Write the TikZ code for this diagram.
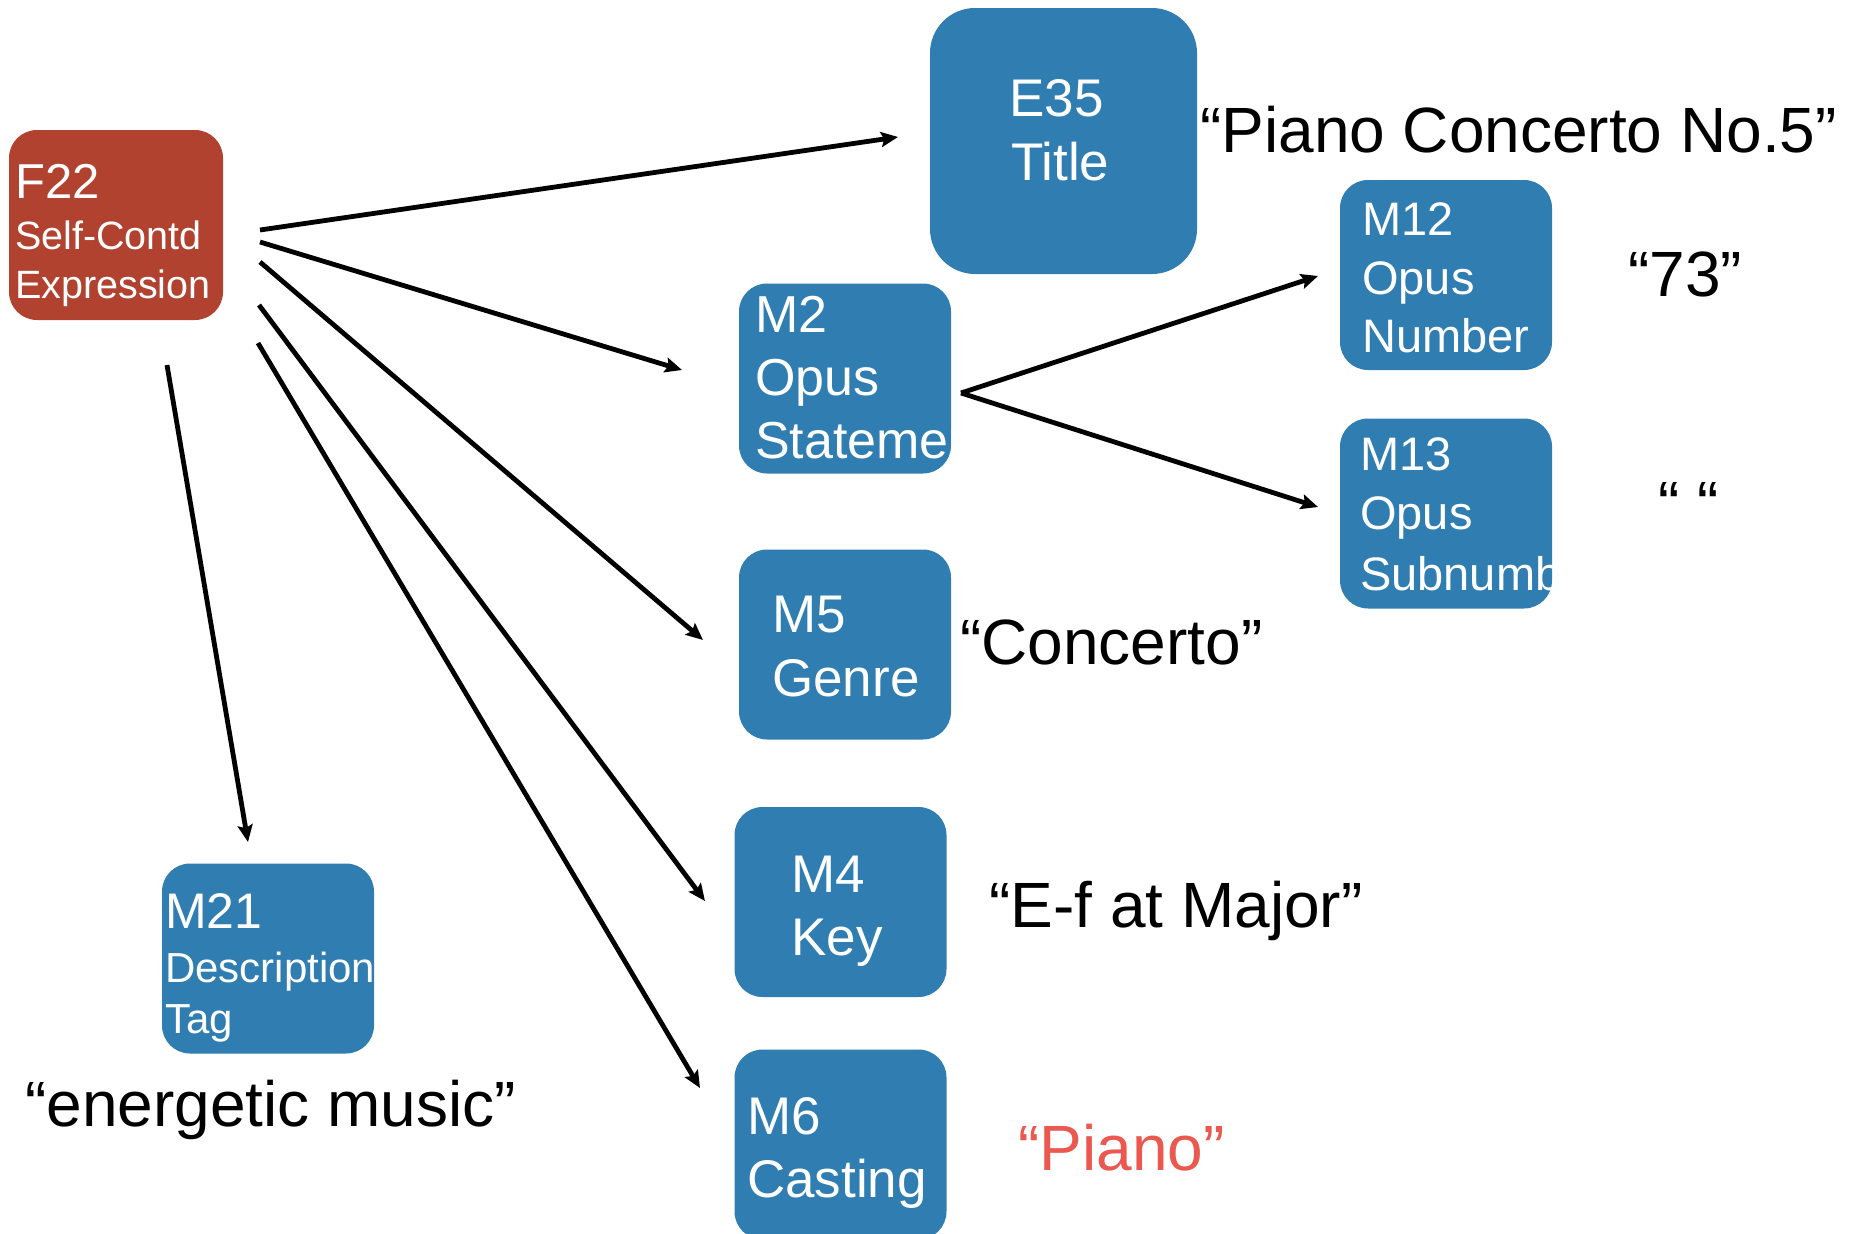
\documentclass[tikz,border=0pt]{standalone}
\usepackage{fontspec}
\setmainfont{Liberation Sans}
\usetikzlibrary{arrows.meta}
\definecolor{boxblue}{RGB}{47,125,177}
\definecolor{boxred}{RGB}{178,66,48}
\definecolor{quotered}{RGB}{234,88,80}
\newcommand\fs[1]{\fontsize{#1pt}{#1pt}\selectfont}
\begin{document}
\begin{tikzpicture}[x=1pt,y=-1pt,
  card/.style={rounded corners=28pt, fill=boxblue, draw=none, inner sep=0pt,
               minimum width=212pt, minimum height=190pt},
  redcard/.style={card, fill=boxred},
  bigcard/.style={card, rounded corners=45pt, minimum width=267pt, minimum height=266pt},
  inl/.style={anchor=base west, inner sep=0pt, text=white},
  val/.style={anchor=base west, inner sep=0pt, text=black, font=\fs{64}},
  conn/.style={line width=4.8pt, -{Stealth[length=17pt,width=15pt,inset=3pt]}}]
\useasboundingbox (0,0) rectangle (1858,1234);

% entity cards
\node[redcard, minimum width=214pt] (f22) at (116,225) {};
\node[bigcard] (e35) at (1063.5,141) {};
\node[card] (m12) at (1446,275) {};
\node[card] (m2)  at (845,378.5) {};
\node[card] (m13) at (1446,513.5) {};
\node[card] (m5)  at (845,644.5) {};
\node[card] (m4)  at (840.5,902) {};
\node[card] (m6)  at (840.5,1144.5) {};
\node[card] (m21) at (268,958.5) {};

% card captions, cut off at the card outline
\begin{scope}
  \clip[rounded corners=28pt] (f22.south west) rectangle (f22.north east);
  \node[inl, font=\fs{49}] (f22a) at (15,198) {F22};
  \node[inl, font=\fs{39.5}] (f22b) at (15,249) {Self-Contd};
  \node[inl, font=\fs{39.5}] (f22c) at (15,298) {Expression};
\end{scope}
\begin{scope}
  \clip[rounded corners=45pt] (e35.south west) rectangle (e35.north east);
  \node[inl, font=\fs{53}] (e35a) at (1009,116) {E35};
  \node[inl, font=\fs{53}] (e35b) at (1011,180) {Title};
\end{scope}
\begin{scope}
  \clip[rounded corners=28pt] (m12.south west) rectangle (m12.north east);
  \node[inl, font=\fs{47}] (m12a) at (1362,235) {M12};
  \node[inl, font=\fs{47}] (m12b) at (1362,294) {Opus};
  \node[inl, font=\fs{47}] (m12c) at (1362,352) {Number};
\end{scope}
\begin{scope}
  \clip[rounded corners=28pt] (m2.south west) rectangle (m2.north east);
  \node[inl, font=\fs{52}] (m2a) at (755,332) {M2};
  \node[inl, font=\fs{52}] (m2b) at (755,395) {Opus};
  \node[inl, font=\fs{52}] (m2c) at (755,458) {Statement};
\end{scope}
\begin{scope}
  \clip[rounded corners=28pt] (m13.south west) rectangle (m13.north east);
  \node[inl, font=\fs{47}] (m13a) at (1360,470) {M13};
  \node[inl, font=\fs{47}] (m13b) at (1360,529) {Opus};
  \node[inl, font=\fs{47}] (m13c) at (1360,590) {Subnumber};
\end{scope}
\begin{scope}
  \clip[rounded corners=28pt] (m5.south west) rectangle (m5.north east);
  \node[inl, font=\fs{53}] (m5a) at (772,632) {M5};
  \node[inl, font=\fs{53}] (m5b) at (772,696) {Genre};
\end{scope}
\begin{scope}
  \clip[rounded corners=28pt] (m4.south west) rectangle (m4.north east);
  \node[inl, font=\fs{53}] (m4a) at (791,892) {M4};
  \node[inl, font=\fs{53}] (m4b) at (791,955) {Key};
\end{scope}
\begin{scope}
  \clip[rounded corners=28pt] (m6.south west) rectangle (m6.north east);
  \node[inl, font=\fs{53}] (m6a) at (747,1134) {M6};
  \node[inl, font=\fs{53}] (m6b) at (747,1197) {Casting};
\end{scope}
\begin{scope}
  \clip[rounded corners=28pt] (m21.south west) rectangle (m21.north east);
  \node[inl, font=\fs{50}] (m21a) at (165,928) {M21};
  \node[inl, font=\fs{42}] (m21b) at (165,982) {Description};
  \node[inl, font=\fs{42}] (m21c) at (165,1033) {Tag};
\end{scope}

% literal values
\node[val] (vtitle) at (1200,152) {“Piano Concerto No.5”};
\node[val] (vnum)   at (1628,296) {“73”};
\node[val] (vsub)   at (1658,526) {“ “};
\node[val] (vgenre) at (960,664) {“Concerto”};
\node[val] (vkey)   at (989,927) {“E-f at Major”};
\node[val, text=quotered] (vcast) at (1018,1170) {“Piano”};
\node[val] (vdesc)  at (25,1126) {“energetic music”};

% connector end points
\coordinate (s1) at (260,230);
\coordinate (s2) at (260,242);
\coordinate (s3) at (260,262);
\coordinate (s4) at (259,305);
\coordinate (s5) at (258,343);
\coordinate (s6) at (167,365);
\coordinate (t1) at (898,137);
\coordinate (t2) at (682,370);
\coordinate (t3) at (703,640);
\coordinate (t4) at (705,901);
\coordinate (t5) at (700,1088);
\coordinate (t6) at (248,842);
\coordinate (s7) at (961,393);
\coordinate (t7) at (1318,276);
\coordinate (t8) at (1318,507);

% properties of the expression
\draw[conn] (s1) -- (t1);
\draw[conn] (s2) -- (t2);
\draw[conn] (s3) -- (t3);
\draw[conn] (s4) -- (t4);
\draw[conn] (s5) -- (t5);
\draw[conn] (s6) -- (t6);
% parts of the opus statement
\draw[conn] (s7) -- (t7);
\draw[conn] (s7) -- (t8);
\end{tikzpicture}
\end{document}
